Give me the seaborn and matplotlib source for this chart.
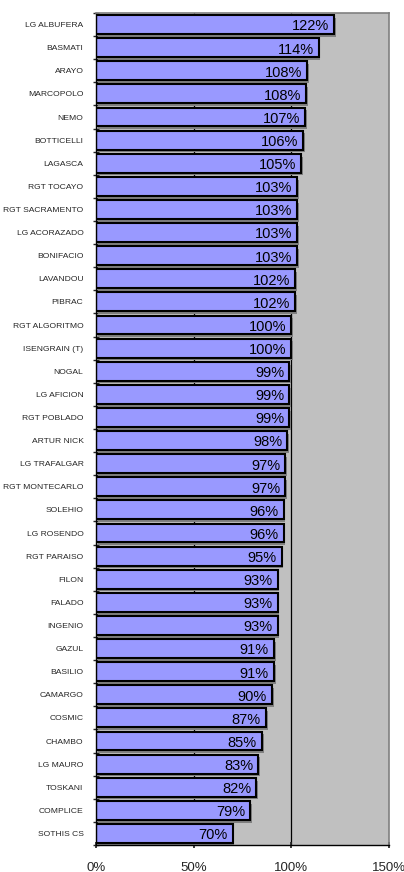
import matplotlib
matplotlib.use("Agg")
import matplotlib.pyplot as plt
import seaborn as sns
import pandas as pd
from matplotlib import font_manager

varieties = ["LG ALBUFERA", "BASMATI", "ARAYO", "MARCOPOLO", "NEMO", "BOTTICELLI",
             "LAGASCA", "RGT TOCAYO", "RGT SACRAMENTO", "LG ACORAZADO", "BONIFACIO",
             "LAVANDOU", "PIBRAC", "RGT ALGORITMO", "ISENGRAIN (T)", "NOGAL",
             "LG AFICION", "RGT POBLADO", "ARTUR NICK", "LG TRAFALGAR", "RGT MONTECARLO",
             "SOLEHIO", "LG ROSENDO", "RGT PARAISO", "FILON", "FALADO", "INGENIO",
             "GAZUL", "BASILIO", "CAMARGO", "COSMIC", "CHAMBO", "LG MAURO", "TOSKANI",
             "COMPLICE", "SOTHIS CS"]
values = [122, 114, 108, 107.7, 107, 106, 105, 103, 103, 103, 103, 102, 102, 100,
          100, 99, 99, 99, 98, 97, 97, 96, 96, 95, 93, 93, 93, 91, 91, 90, 87, 85,
          83, 82, 79, 70]
xticks = [0, 50, 100, 150]
xtick_labels = ["0%", "50%", "100%", "150%"]

df = pd.DataFrame({"variety": varieties, "value": values})

sns.set_theme(style="white")
names = {f.name for f in font_manager.fontManager.ttflist}
narrow = "Liberation Sans Narrow" if "Liberation Sans Narrow" in names else "Liberation Sans"
plt.rcParams["font.family"] = ["Liberation Sans", "DejaVu Sans"]

W, H = 404, 872
fig = plt.figure(figsize=(W / 100, H / 100), dpi=100)
ax = fig.add_axes([96 / W, 1 - 845 / H, (389 - 96) / W, (845 - 13) / H])
ax.set_facecolor("#C0C0C0")

# gridlines
for g in [50, 100]:
    ax.axvline(g, color="black", lw=0.9, zorder=0.5)

sns.barplot(data=df, x="value", y="variety", orient="h", ax=ax,
            color="#9999FF", saturation=1, width=0.82,
            edgecolor="black", linewidth=1.5, zorder=2)

# shadows
for p in ax.patches:
    ax.add_patch(plt.Rectangle((p.get_x() + 0.9, p.get_y() + 0.12), p.get_width(),
                               p.get_height(), facecolor="#808080", edgecolor="none",
                               zorder=1.5))

for i, v in enumerate(values):
    ax.text(v - 2.6, i + 0.08, f"{v:.0f}%", ha="right", va="center",
            fontsize=10.5, color="black", zorder=3)

ax.set_xlim(0, 150)
ax.set_ylim(len(values) - 0.5, -0.5)
ax.set_xticks(xticks)
ax.set_xticklabels(xtick_labels, fontsize=9.5)
ax.set_yticks(range(len(varieties)))
fs = 6.4 if narrow.endswith("Narrow") else 6.1
ax.set_yticklabels(varieties, fontsize=fs, family=[narrow, "DejaVu Sans"])
ax.set_xlabel("")
ax.set_ylabel("")
ax.tick_params(axis="y", which="major", length=0, pad=9)
ax.tick_params(axis="x", which="major", length=4, direction="inout", pad=10, bottom=True)
# category boundary ticks on left
ax.set_yticks([i + 0.5 for i in range(-1, len(values))], minor=True)
ax.tick_params(axis="y", which="minor", length=5, direction="inout", left=True)

for s in ["left", "bottom"]:
    ax.spines[s].set_color("black")
    ax.spines[s].set_linewidth(1.0)
for s in ["top", "right"]:
    ax.spines[s].set_color("#808080")
    ax.spines[s].set_linewidth(1.2)

fig.savefig("out.png", dpi=100, facecolor="white")
